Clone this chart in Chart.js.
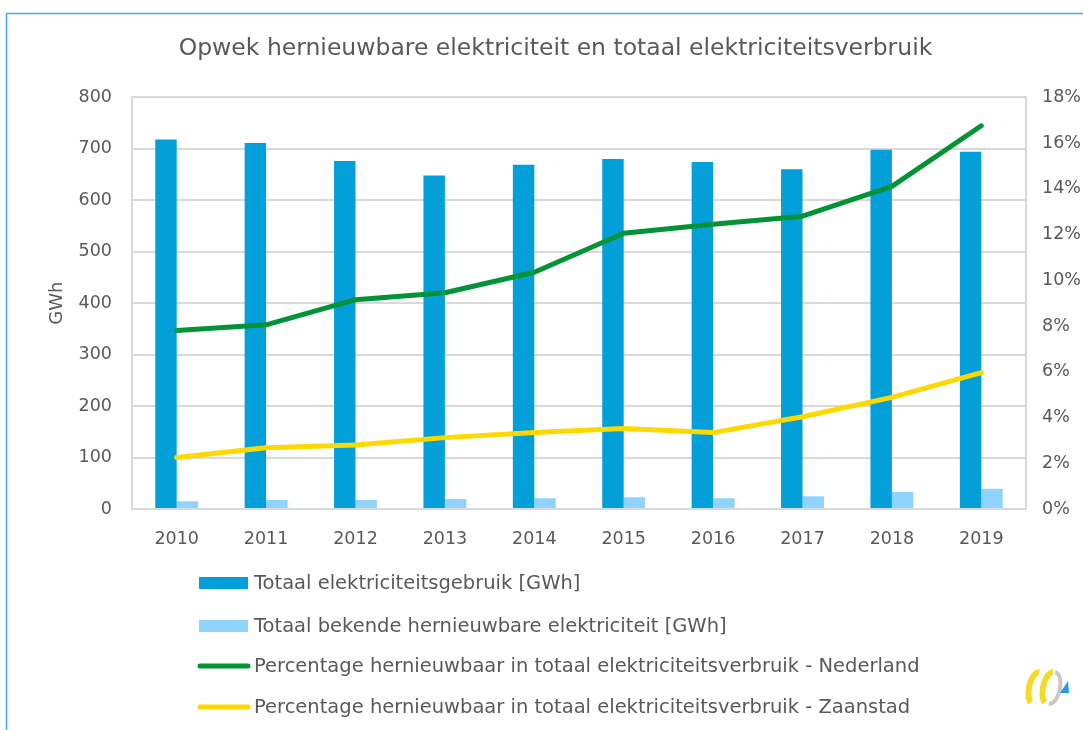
<!DOCTYPE html>
<html>
<head>
<meta charset="utf-8">
<script src="https://cdn.jsdelivr.net/npm/chart.js@4.4.0/dist/chart.umd.min.js"></script>
<style>
  html, body { margin: 0; padding: 0; background: #fff; }
  #wrap { position: relative; width: 1083px; height: 730px; }
</style>
</head>
<body>
<div id="wrap"><canvas id="chart" width="1083" height="730"></canvas></div>
<script>
// jaren en waarden
const jaren = ['2010', '2011', '2012', '2013', '2014', '2015', '2016', '2017', '2018', '2019'];
const totaalGebruik = [718, 711, 676, 648, 669, 680, 674, 660, 698, 694];
const hernieuwbaar = [15, 17.5, 17.5, 19.5, 21, 23, 21, 25, 33, 39.5];
const pctNederland = [7.8, 8.05, 9.15, 9.45, 10.35, 12.05, 12.45, 12.8, 14.1, 16.75];
const pctZaanstad = [2.25, 2.68, 2.8, 3.12, 3.34, 3.52, 3.34, 4.03, 4.88, 5.96];

const FONT = "'DejaVu Sans', Verdana, sans-serif";
const GRIJS = '#595959';
const LIJN = '#d9d9d9';

// kader, plotrand, legenda en logo
const extras = {
    id: 'extras',
    beforeDraw(chart) {
        const ctx = chart.ctx;
        ctx.save();
        ctx.strokeStyle = '#3cb4e4';
        ctx.lineWidth = 1.5;
        ctx.strokeRect(6.5, 13.5, 1200, 900);
        ctx.restore();
    },
    afterDraw(chart) {
        const ctx = chart.ctx;
        const a = chart.chartArea;
        ctx.save();
        ctx.strokeStyle = LIJN;
        ctx.lineWidth = 2;
        ctx.strokeRect(a.left, a.top, a.right - a.left, a.bottom - a.top);

        // legenda, één item per regel
        const rijen = [583, 626, 666, 707];
        ctx.font = '19.5px ' + FONT;
        ctx.textBaseline = 'middle';
        chart.data.datasets.forEach((ds, i) => {
            const y = rijen[i];
            if (ds.type === 'line') {
                ctx.strokeStyle = ds.borderColor;
                ctx.lineWidth = 5;
                ctx.lineCap = 'round';
                ctx.beginPath();
                ctx.moveTo(200, y);
                ctx.lineTo(248, y);
                ctx.stroke();
            } else {
                ctx.fillStyle = ds.backgroundColor;
                ctx.fillRect(199, y - 6, 49, 12);
            }
            ctx.fillStyle = GRIJS;
            ctx.fillText(ds.label, 254, y + 1);
        });

        // logo rechtsonder
        ctx.lineCap = 'butt';
        ctx.lineWidth = 6;
        ctx.strokeStyle = '#f2dc2a';
        ctx.beginPath();
        ctx.ellipse(1036, 688, 7, 16, 0.2, Math.PI * 0.6, Math.PI * 1.5);
        ctx.stroke();
        ctx.beginPath();
        ctx.ellipse(1050, 688, 7, 16, 0.2, Math.PI * 0.6, Math.PI * 1.5);
        ctx.stroke();
        ctx.strokeStyle = '#c8c8c8';
        ctx.lineWidth = 4;
        ctx.beginPath();
        ctx.ellipse(1052, 688, 8, 16, 0.2, Math.PI * 1.5, Math.PI * 2.5);
        ctx.stroke();
        ctx.fillStyle = '#1fa0e0';
        ctx.beginPath();
        ctx.moveTo(1068, 681);
        ctx.lineTo(1069, 693);
        ctx.lineTo(1060, 693);
        ctx.closePath();
        ctx.fill();
        ctx.restore();
    }
};

const chart = new Chart(document.getElementById('chart'), {
    data: {
        labels: jaren,
        datasets: [
            {
                type: 'bar',
                label: 'Totaal elektriciteitsgebruik [GWh]',
                data: totaalGebruik,
                backgroundColor: '#039fd9',
                yAxisID: 'y',
                order: 2,
                categoryPercentage: 0.48,
                barPercentage: 1
            },
            {
                type: 'bar',
                label: 'Totaal bekende hernieuwbare elektriciteit [GWh]',
                data: hernieuwbaar,
                backgroundColor: '#8fd3fe',
                yAxisID: 'y',
                order: 2,
                categoryPercentage: 0.48,
                barPercentage: 1
            },
            {
                type: 'line',
                label: 'Percentage hernieuwbaar in totaal elektriciteitsverbruik - Nederland',
                data: pctNederland,
                borderColor: '#019336',
                borderWidth: 5,
                borderCapStyle: 'round',
                borderJoinStyle: 'round',
                pointRadius: 0,
                tension: 0,
                yAxisID: 'y1',
                order: 1
            },
            {
                type: 'line',
                label: 'Percentage hernieuwbaar in totaal elektriciteitsverbruik - Zaanstad',
                data: pctZaanstad,
                borderColor: '#ffd800',
                borderWidth: 5,
                borderCapStyle: 'round',
                borderJoinStyle: 'round',
                pointRadius: 0,
                tension: 0,
                yAxisID: 'y1',
                order: 1
            }
        ]
    },
    options: {
        responsive: false,
        animation: false,
        // links 28px zodat de titel rond x=555 gecentreerd staat
        layout: { padding: { top: 0, left: 28, right: 0, bottom: 181 } },
        plugins: {
            legend: { display: false },
            tooltip: { enabled: false },
            title: {
                display: true,
                text: 'Opwek hernieuwbare elektriciteit en totaal elektriciteitsverbruik',
                color: GRIJS,
                font: { family: FONT, size: 23.5, weight: 'normal' },
                padding: { top: 35, bottom: 34 }
            }
        },
        scales: {
            x: {
                grid: { display: false },
                border: { display: true, color: LIJN, width: 2 },
                ticks: { color: GRIJS, font: { family: FONT, size: 17.5 }, padding: 12 },
                afterFit(scale) { scale.height = 40; }
            },
            y: {
                position: 'left',
                min: 0,
                max: 800,
                ticks: { stepSize: 100, color: GRIJS, font: { family: FONT, size: 17.5 }, padding: 20 },
                grid: { color: LIJN, lineWidth: 2, drawTicks: false },
                border: { display: true, color: LIJN, width: 2 },
                title: {
                    display: true,
                    text: 'GWh',
                    color: GRIJS,
                    font: { family: FONT, size: 18 },
                    padding: { top: 19, bottom: 0 }
                },
                afterFit(scale) { scale.width = 104; }
            },
            y1: {
                position: 'right',
                min: 0,
                max: 18,
                ticks: {
                    stepSize: 2,
                    color: GRIJS,
                    font: { family: FONT, size: 17.5 },
                    padding: 16,
                    callback: v => v + '%'
                },
                grid: { display: false, drawTicks: false },
                border: { display: true, color: LIJN, width: 2 },
                afterFit(scale) { scale.width = 57; }
            }
        }
    },
    plugins: [extras]
});
</script>
</body>
</html>
